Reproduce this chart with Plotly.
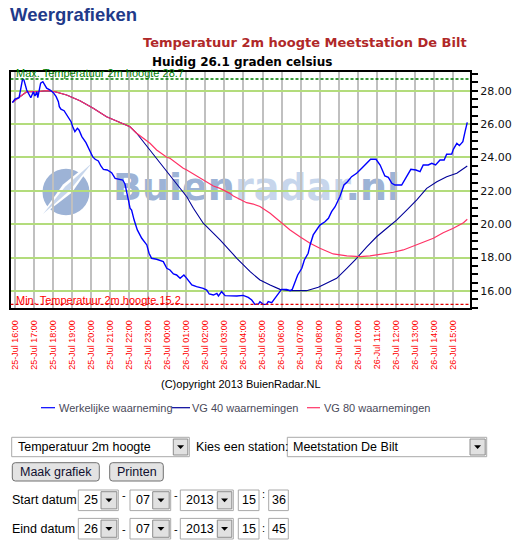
import plotly.graph_objects as go

W, H = 518, 547

# ---------------- data ----------------
actual_time = [
    "25 15:51", "25 15:59", "25 16:12", "25 16:23", "25 16:27", "25 16:36", "25 16:49", "25 16:57",
    "25 17:02", "25 17:08", "25 17:11", "25 17:16", "25 17:20", "25 17:27", "25 17:32", "25 17:39", "25 17:50",
    "25 18:00", "25 18:09", "25 18:16", "25 18:19", "25 18:24", "25 18:34", "25 18:42", "25 18:50", "25 18:56",
    "25 19:01", "25 19:08", "25 19:16", "25 19:21", "25 19:30", "25 19:43", "25 19:54",
    "25 20:04", "25 20:12", "25 20:22", "25 20:30", "25 20:38", "25 20:50",
    "25 21:04", "25 21:15", "25 21:28", "25 21:39", "25 21:46", "25 21:52", "25 21:57",
    "25 22:02", "25 22:07", "25 22:15", "25 22:25", "25 22:39", "25 22:55",
    "25 23:02", "25 23:10", "25 23:26", "25 23:47", "25 23:58",
    "26 00:08", "26 00:19", "26 00:29", "26 00:40", "26 00:52",
    "26 01:01", "26 01:17", "26 01:32", "26 01:53",
    "26 02:04", "26 02:12", "26 02:25", "26 02:36", "26 02:41", "26 02:51",
    "26 03:02", "26 03:17", "26 03:39", "26 03:59",
    "26 04:15", "26 04:26", "26 04:36", "26 04:47", "26 04:52",
    "26 05:02", "26 05:13", "26 05:18", "26 05:29", "26 05:39", "26 05:50",
    "26 06:00", "26 06:16", "26 06:27", "26 06:34", "26 06:42", "26 06:51",
    "26 07:04", "26 07:12", "26 07:24", "26 07:30", "26 07:40", "26 07:51",
    "26 08:01", "26 08:17", "26 08:28", "26 08:38", "26 08:49", "26 08:59",
    "26 09:04", "26 09:17", "26 09:28", "26 09:41", "26 09:57",
    "26 10:13", "26 10:23", "26 10:34", "26 10:41", "26 10:58",
    "26 11:11", "26 11:26", "26 11:37", "26 11:48", "26 11:58",
    "26 12:19", "26 12:35", "26 12:48",
    "26 13:04", "26 13:17", "26 13:27", "26 13:43", "26 13:54",
    "26 14:06", "26 14:20", "26 14:33", "26 14:41", "26 14:57",
    "26 15:02", "26 15:13", "26 15:21", "26 15:32", "26 15:39", "26 15:46",
]
actual_temp = [
    27.28, 27.50, 27.58, 28.70, 28.66, 28.04, 27.58, 27.94,
    27.68, 27.94, 27.58, 28.04, 28.45, 28.54, 28.34, 28.15, 28.04,
    27.88, 27.64, 27.34, 27.04, 26.89, 26.80, 26.55, 26.25, 26.14,
    25.85, 25.55, 25.75, 25.65, 25.25, 24.89, 24.45,
    24.05, 23.89, 23.79, 23.49, 23.29, 23.25,
    23.09, 22.75, 22.71, 22.65, 22.41, 21.95, 21.45,
    20.96, 20.85, 20.25, 19.66, 19.16, 18.76,
    18.26, 17.96, 17.90, 17.76, 17.36,
    17.26, 17.02, 16.96, 16.76, 16.96,
    16.76, 16.36, 16.26, 16.16,
    16.06, 15.82, 15.76, 15.86, 15.70, 15.96,
    15.72, 15.70, 15.70, 15.74,
    15.62, 15.46, 15.20, 15.22, 15.36,
    15.20, 15.20, 15.36, 15.30, 15.56, 15.86,
    16.10, 16.10, 16.02, 16.10, 16.56, 16.96,
    17.36, 17.86, 18.26, 18.76, 19.36, 19.66,
    19.95, 20.15, 20.36, 20.75, 21.05, 21.45,
    21.65, 22.35, 22.55, 22.85, 23.05,
    23.35, 23.55, 23.75, 23.89, 23.89,
    23.55, 22.89, 22.81, 22.45, 22.35,
    22.35, 22.85, 23.29,
    23.25, 23.15, 23.55, 23.55, 23.65,
    23.55, 23.85, 23.85, 24.19, 24.21,
    24.49, 24.85, 24.71, 24.95, 25.55, 26.10,
]

vg40_time = [
    "25 15:51", "25 16:15", "25 16:36", "25 17:08", "25 17:39", "25 18:05", "25 18:42",
    "25 19:24", "25 20:06", "25 20:48", "25 21:30", "25 22:02", "25 22:23",
    "25 23:05", "25 23:37",
    "26 00:19", "26 01:01", "26 01:22", "26 01:53", "26 02:46", "26 03:39", "26 04:21",
    "26 04:52", "26 05:24", "26 05:55", "26 06:27",
    "26 07:19", "26 07:56", "26 08:23", "26 08:54", "26 09:26", "26 09:57", "26 10:29",
    "26 11:00", "26 11:32", "26 12:03", "26 12:35", "26 13:06", "26 13:38", "26 14:10",
    "26 14:41", "26 15:13", "26 15:46",
]
vg40_temp = [
    27.31, 27.64, 27.94, 27.94, 28.00, 27.94, 27.74,
    27.40, 26.95, 26.44, 26.08, 25.84, 25.45,
    24.45, 23.65,
    22.65, 21.65, 20.96, 20.06, 19.06, 17.96, 17.16,
    16.66, 16.36, 16.10, 16.02,
    16.02, 16.22, 16.46, 16.76, 17.36, 17.96, 18.65,
    19.25, 19.76, 20.25, 20.85, 21.45, 22.15, 22.55,
    22.85, 23.05, 23.49,
]

vg80_time = [
    "25 15:51", "25 16:15", "25 16:36", "25 17:08", "25 17:39", "25 18:05", "25 18:42",
    "25 19:24", "25 20:06", "25 20:48", "25 21:30", "25 22:02", "25 22:23",
    "25 23:05", "25 23:26", "25 23:58",
    "26 00:08", "26 00:50", "26 01:01", "26 01:53", "26 02:25", "26 02:46", "26 03:17",
    "26 03:28", "26 04:10", "26 04:31", "26 04:52",
    "26 05:24", "26 05:55", "26 06:27", "26 06:58", "26 07:30", "26 08:01", "26 08:43",
    "26 09:26", "26 10:08", "26 10:39", "26 11:21", "26 11:53", "26 12:24", "26 12:56",
    "26 13:27", "26 13:59", "26 14:30", "26 15:02", "26 15:34", "26 15:46",
]
vg80_temp = [
    27.31, 27.64, 27.94, 27.94, 28.00, 27.94, 27.74,
    27.40, 26.95, 26.44, 26.08, 25.84, 25.45,
    24.85, 24.45, 24.01,
    23.95, 23.35, 23.25, 22.65, 22.29, 22.15, 21.85,
    21.69, 21.29, 21.21, 21.06,
    20.66, 20.15, 19.66, 19.25, 18.86, 18.56, 18.22,
    18.10, 18.06, 18.10, 18.20, 18.32, 18.46, 18.70,
    18.89, 19.16, 19.49, 19.76, 20.09, 20.30,
]

max_temp = 28.7
min_temp = 15.2
current_temp = 26.1
y_range = [15.0, 29.12]
x_range = ["2013-07-25 15:44:56", "2013-07-26 15:54:36"]
station = "Meetstation De Bilt"
series_names = ["Werkelijke waarneming", "VG 40 waarnemingen", "VG 80 waarnemingen"]
series_colors = ["#0000ff", "#000099", "#ff3366"]


def ts(s):
    d, hm = s.split()
    return f"2013-07-{d} {hm}"


# page pixel -> paper helpers (decoration only)
def X(p):
    return p / W


def Y(p):
    return 1 - p / H


PL, PR, PT, PB = 10.5, 470.0, 72.0, 307.7
ARIAL = "Liberation Sans"
VERD = "DejaVu Sans"

fig = go.Figure()

# watermark (own subplot, drawn underneath the grid of the data subplot)
fig.add_trace(go.Scatter(
    x=[0.5354], y=[0.497], mode="text",
    text="<b><span style='color:#9db3d6'>Buien</span><span style='color:#c7d6ec'>radar</span>"
         "<span style='color:#9db3d6'>.nl</span></b>",
    textfont=dict(family=VERD, size=38, color="#9db3d6"),
    hoverinfo="skip", showlegend=False, xaxis="x", yaxis="y"))

for t, v, name, col, w in [
    (vg40_time, vg40_temp, series_names[1], series_colors[1], 1.1),
    (vg80_time, vg80_temp, series_names[2], series_colors[2], 1.2),
    (actual_time, actual_temp, series_names[0], series_colors[0], 1.4),
]:
    fig.add_trace(go.Scatter(
        x=[ts(s) for s in t], y=v, mode="lines", name=name,
        line=dict(color=col, width=w), xaxis="x2", yaxis="y2",
        hoverinfo="skip", showlegend=False))

shapes = []
annotations = []


def rect(x0, y0, x1, y1, fill="white", line="#a5a5a5", lw=1, layer="above"):
    shapes.append(dict(type="rect", xref="paper", yref="paper", x0=X(x0), x1=X(x1),
                       y0=Y(y0), y1=Y(y1), fillcolor=fill, layer=layer,
                       line=dict(color=line, width=lw)))


def path(points, fill, layer="above", line=None):
    d = "M " + " L ".join(f"{X(a):.5f},{Y(b):.5f}" for a, b in points) + " Z"
    shapes.append(dict(type="path", xref="paper", yref="paper", path=d, fillcolor=fill,
                       layer=layer, line=dict(color=line or fill, width=0 if line is None else 1)))


def text(x, y, s, size=12.5, color="black", family=ARIAL, xanchor="left", bold=False):
    if bold:
        s = f"<b>{s}</b>"
    annotations.append(dict(x=X(x), y=Y(y), xref="paper", yref="paper", text=s,
                            showarrow=False, xanchor=xanchor, yanchor="middle",
                            font=dict(family=family, size=size, color=color)))


# logo circle of the watermark (below everything)
shapes.append(dict(type="circle", xref="paper", yref="paper", x0=X(42.5), x1=X(89.5),
                   y0=Y(168.7), y1=Y(215.3), fillcolor="#9db3d6", line=dict(width=0),
                   layer="below"))
path([(39, 218), (63.0, 184.5), (96, 158), (72.0, 192.5)], "white", layer="below")
path([(43, 214), (65.3, 186.5), (92, 163), (69.7, 190.5)], "#c7d6ec", layer="below")

# max / min reference lines
for val, col in [(max_temp, "#008000"), (min_temp, "#e00000")]:
    shapes.append(dict(type="line", xref="x2", yref="y2", x0=x_range[0], x1=x_range[1],
                       y0=val, y1=val, line=dict(color=col, width=1.3, dash="3px,2px")))

# titles
text(7.5, 15, "Weergrafieken", size=18.5, color="#1f3a8a", bold=True)
text(141, 42, f"Temperatuur 2m hoogte {station}", size=13, color="#b02828", family=VERD, bold=True)
text(150, 62, f"Huidig {current_temp} graden celsius", size=12, color="black", family=VERD, bold=True)
text(13.7, 73, f"Max. Temperatuur 2m hoogte {max_temp}", size=11, color="#008000")
text(13.7, 299.5, f"Min. Temperatuur 2m hoogte {min_temp}", size=11, color="#ff0000")
text(159, 383.5, "(C)opyright 2013 BuienRadar.NL", size=11, color="black")

# legend
for (lx0, lx1, tx), name, col in zip([(41, 55, 57), (172, 190, 190), (307, 320, 322)],
                                      series_names, series_colors):
    shapes.append(dict(type="line", xref="paper", yref="paper", x0=X(lx0), x1=X(lx1),
                       y0=Y(407.7), y1=Y(407.7), line=dict(color=col, width=1.2)))
    text(tx, 407.7, name, size=11, color="#4a4a5a")


# form controls
def dropdown(x0, y0, x1, y1, bx0, label, tx):
    rect(x0, y0, x1, y1, fill="white", line="#a9a9a9")
    rect(bx0, y0 + 1.7, x1 - 1.5, y1 - 1.7, fill="#e1e1e1", line="#8c8c8c")
    cx, cy = (bx0 + x1 - 1.5) / 2, (y0 + y1) / 2
    path([(cx - 3.5, cy - 1.8), (cx + 3.5, cy - 1.8), (cx, cy + 2)], "black")
    text(tx, (y0 + y1) / 2, label, size=12.5)


dropdown(11.7, 437.3, 189.3, 456.7, 173.3, "Temperatuur 2m hoogte", 15.5)
text(194, 447.2, "Kies een station:", size=12.5)
dropdown(287.3, 437.3, 486.7, 456.7, 470.0, station, 291)


def button(x0, y0, x1, y1, label):
    r = 3
    shapes.append(dict(type="path", xref="paper", yref="paper",
                       path=(f"M {X(x0 + r)},{Y(y0)} L {X(x1 - r)},{Y(y0)} Q {X(x1)},{Y(y0)} {X(x1)},{Y(y0 + r)} "
                             f"L {X(x1)},{Y(y1 - r)} Q {X(x1)},{Y(y1)} {X(x1 - r)},{Y(y1)} "
                             f"L {X(x0 + r)},{Y(y1)} Q {X(x0)},{Y(y1)} {X(x0)},{Y(y1 - r)} "
                             f"L {X(x0)},{Y(y0 + r)} Q {X(x0)},{Y(y0)} {X(x0 + r)},{Y(y0)} Z"),
                       fillcolor="#e3e3e3", line=dict(color="#707070", width=1)))
    text((x0 + x1) / 2, (y0 + y1) / 2, label, size=12.5, xanchor="center", color="#101030")


button(12.3, 462.7, 99.3, 481.0, "Maak grafiek")
button(109.7, 462.7, 163.3, 481.0, "Printen")


def date_row(yc, label, day, month, year, hh, mm, raised):
    y0, y1 = yc - 10.3, yc + 10.3
    text(9.7, yc, label, size=12.5)
    for (x0, x1, bx0), val, tx in [((78.3, 118.3, 101.0), day, 82),
                                   ((130.0, 170.7, 152.7), month, 134),
                                   ((180.3, 233.3, 217.3), year, 184)]:
        dropdown(x0, y0, x1, y1, bx0, val, tx)
    for x0, x1, val in [(238.3, 259.0, hh), (268.7, 288.3, mm)]:
        rect(x0, y0, x1, y1, fill="white", line="#a9a9a9")
        text((x0 + x1) / 2, yc, val, size=12.5, xanchor="center")
    dy = -5 if raised else 0
    text(123.5, yc + dy, "-", size=11, xanchor="center")
    text(175.5, yc + dy, "-", size=11, xanchor="center")
    text(263.5, yc + dy - 1, ":", size=11, xanchor="center")


date_row(500.3, "Start datum", "25", "07", "2013", "15", "36", True)
date_row(528.7, "Eind datum", "26", "07", "2013", "15", "45", False)

axis_common = dict(showline=True, linecolor="black", linewidth=2, mirror=True,
                   zeroline=False, fixedrange=True)

fig.update_layout(
    width=W, height=H, margin=dict(l=0, r=0, t=0, b=0),
    paper_bgcolor="white", plot_bgcolor="rgba(0,0,0,0)",
    showlegend=False, hovermode=False,
    shapes=shapes, annotations=annotations,
    xaxis=dict(domain=[X(PL), X(PR)], range=[0, 1], visible=False, fixedrange=True),
    yaxis=dict(domain=[Y(PB), Y(PT)], range=[0, 1], visible=False, fixedrange=True),
    xaxis2=dict(domain=[X(PL), X(PR)], anchor="y2", type="date", range=x_range,
                tick0="2013-07-25 16:00", dtick=3600000, tickformat="%d-%b %H:%M",
                tickangle=-90, tickfont=dict(family=ARIAL, size=9, color="#ff0000"),
                showgrid=True, gridcolor="#c0c0c0", gridwidth=2, ticks="",
                ticklabelstandoff=7, automargin=False, **axis_common),
    yaxis2=dict(domain=[Y(PB), Y(PT)], anchor="x2", side="right", range=y_range,
                tick0=16, dtick=2, tickformat=".2f",
                tickfont=dict(family=VERD, size=11, color="#101010"),
                showgrid=True, gridcolor="#b3dc7c", gridwidth=2,
                ticks="outside", ticklen=6, tickwidth=1.5, tickcolor="black",
                minor=dict(dtick=0.5, tick0=15, ticks="outside", ticklen=6, tickwidth=1.5,
                           tickcolor="black", showgrid=False),
                automargin=False, **axis_common),
)

fig.write_html("out.html", config={"displayModeBar": False},
               post_script="document.body.style.margin='0';document.body.style.overflow='hidden';")
